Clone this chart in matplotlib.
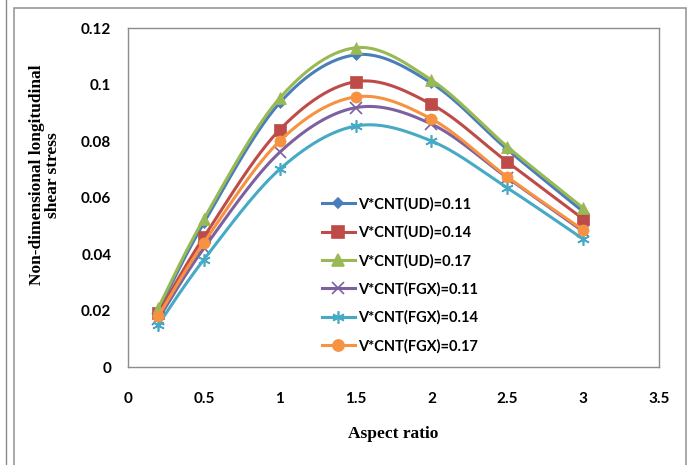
import numpy as np
import matplotlib
matplotlib.use("Agg")
import matplotlib.pyplot as plt
from matplotlib.patches import Rectangle
from matplotlib.lines import Line2D

aspect = [0.2, 0.5, 1.0, 1.5, 2.0, 2.5, 3.0]
ud_011 = [0.020, 0.051, 0.0935, 0.1105, 0.1005, 0.077, 0.055]
ud_014 = [0.019, 0.046, 0.084, 0.101, 0.093, 0.0726, 0.0524]
ud_017 = [0.021, 0.0524, 0.0952, 0.113, 0.1016, 0.078, 0.0563]
fgx_011 = [0.017, 0.042, 0.076, 0.0918, 0.086, 0.067, 0.048]
fgx_014 = [0.015, 0.038, 0.070, 0.0853, 0.080, 0.0634, 0.0453]
fgx_017 = [0.018, 0.044, 0.080, 0.0956, 0.0878, 0.0673, 0.0485]

names = ["V*CNT(UD)=0.11", "V*CNT(UD)=0.14", "V*CNT(UD)=0.17",
         "V*CNT(FGX)=0.11", "V*CNT(FGX)=0.14", "V*CNT(FGX)=0.17"]
series = [ud_011, ud_014, ud_017, fgx_011, fgx_014, fgx_017]
colors = ["#4A7EBB", "#BE4B48", "#98B954", "#7D60A0", "#46AAC5", "#F69240"]
markers = ["D", "s", "^", "x", (6, 2, 0), "o"]
msizes = [5, 8, 8, 9, 9, 8]

tick_font = "Lato"
serif = "Liberation Serif"


def smooth(x, y, sx=1 / 3.5, sy=1 / 0.12 * 339 / 531, n=30):
    # excel style smoothed line (bezier through points)
    px = np.asarray(x) * sx
    py = np.asarray(y) * sy
    pts = np.column_stack([px, py])
    pts = np.vstack([pts[0], pts, pts[-1]])
    out = []
    t = np.linspace(0, 1, n)[:, None]
    for i in range(1, len(pts) - 2):
        p0, p1, p2, p3 = pts[i - 1], pts[i], pts[i + 1], pts[i + 2]
        c1 = p1 + (p2 - p0) / 6
        c2 = p2 - (p3 - p1) / 6
        b = ((1 - t) ** 3) * p1 + 3 * ((1 - t) ** 2) * t * c1 + 3 * (1 - t) * t ** 2 * c2 + t ** 3 * p2
        out.append(b if i == 1 else b[1:])
    out = np.vstack(out)
    return out[:, 0] / sx, out[:, 1] / sy


fig = plt.figure(figsize=(6.87, 4.65), dpi=100)
ax = fig.add_axes([128 / 687, 1 - 367 / 465, 531 / 687, 339 / 465])

handles = []
for ys, c, m, ms, lab in zip(series, colors, markers, msizes, names):
    sx_, sy_ = smooth(aspect, ys)
    ax.plot(sx_, sy_, color=c, lw=2.2, solid_capstyle="round")
    ax.plot(aspect, ys, ls="none", marker=m, ms=ms, color=c, mec=c, mew=1.2 if m in ("x", (6, 2, 0)) else 0.5)
    handles.append(Line2D([], [], color=c, lw=2.2, marker=m, ms=ms, mec=c, mew=1.2))

ax.set_xlim(0, 3.5)
ax.set_ylim(0, 0.12)
ax.set_xticks(np.arange(0, 3.51, 0.5))
ax.set_yticks(np.arange(0, 0.121, 0.02))
ax.set_xticklabels(["0", "0.5", "1", "1.5", "2", "2.5", "3", "3.5"])
ax.set_yticklabels(["0", "0.02", "0.04", "0.06", "0.08", "0.1", "0.12"])
ax.tick_params(axis="x", length=0, pad=18)
ax.tick_params(axis="y", length=0, pad=12)
for lbl in ax.get_xticklabels() + ax.get_yticklabels():
    lbl.set_fontfamily(tick_font)
    lbl.set_fontweight("bold")
    lbl.set_fontsize(11)
for sp in ax.spines.values():
    sp.set_color("#8C8C8C")
    sp.set_linewidth(1.0)

ax.set_xlabel("Aspect ratio", fontfamily=serif, fontweight="bold", fontsize=12.5)
ax.xaxis.set_label_coords(0.5, (367 - 434) / 339)
ax.xaxis.label.set_va("center")
ax.set_ylabel("Non-dimensional longitudinal\nshear stress", fontfamily=serif, fontweight="bold",
              fontsize=12.5, linespacing=1.0)
ax.yaxis.set_label_coords((45 - 128) / 531, (367 - 175) / 339)
ax.yaxis.label.set_va("center")

leg = ax.legend(handles, names, loc="upper left", bbox_to_anchor=(0.34, 0.54), frameon=False,
                prop={"family": tick_font, "weight": "bold", "size": 10.5},
                handlelength=2.3, handletextpad=0.2, labelspacing=0.95)

# chart area borders
fig.patches.append(Rectangle((14 / 687, -0.1), 672 / 687, 1.1 - 8 / 465, transform=fig.transFigure,
                             fill=False, ec="#9A9A9A", lw=1.2))
fig.lines.append(Line2D([6 / 687, 6 / 687], [0, 1], transform=fig.transFigure, color="#8A8A8A", lw=1.0))

fig.savefig("out.png", dpi=100)
